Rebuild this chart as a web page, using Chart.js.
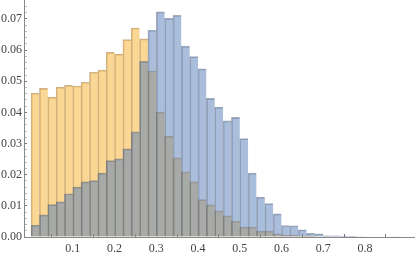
<!DOCTYPE html>
<html>
<head>
<meta charset="utf-8">
<script src="https://cdn.jsdelivr.net/npm/chart.js@4"></script>
<style>
  html, body { margin: 0; padding: 0; background: #fff; }
  #wrap { width: 415px; height: 254px; }
</style>
</head>
<body>
<div id="wrap"><canvas id="chart" width="415" height="254"></canvas></div>
<script>
// bin centres (bin width 0.02)
const binCenters = [0.01, 0.03, 0.05, 0.07, 0.09, 0.11, 0.13, 0.15, 0.17, 0.19,
    0.21, 0.23, 0.25, 0.27, 0.29, 0.31, 0.33, 0.35, 0.37, 0.39,
    0.41, 0.43, 0.45, 0.47, 0.49, 0.51, 0.53, 0.55, 0.57, 0.59,
    0.61, 0.63, 0.65, 0.67, 0.69, 0.71, 0.73, 0.75, 0.77, 0.79,
    0.81, 0.83, 0.85, 0.87, 0.89];

const orangeHeights = [0.0462, 0.0477, 0.0449, 0.0481, 0.0487, 0.0485, 0.0497, 0.0529, 0.0536, 0.0593,
    0.0587, 0.0634, 0.0671, 0.0636, 0.0533, 0.0401, 0.0323, 0.0254, 0.0209, 0.0177,
    0.0120, 0.0103, 0.0084, 0.0068, 0.0051, 0.0032, 0.0032, 0.0019, 0.0019, 0.0010,
    0.0005, 0.0005, 0.0003, 0.0002, 0.0001, 0.0001, 0, 0, 0, 0,
    0, 0, 0, 0, 0];

const blueHeights = [0.0038, 0.0071, 0.0104, 0.0113, 0.0139, 0.0160, 0.0177, 0.0181, 0.0205, 0.0245,
    0.0251, 0.0283, 0.0338, 0.0564, 0.0664, 0.0723, 0.0702, 0.0712, 0.0613, 0.0579,
    0.0540, 0.0445, 0.0417, 0.0373, 0.0384, 0.0316, 0.0205, 0.0128, 0.0107, 0.0074,
    0.0037, 0.0036, 0.0023, 0.0012, 0.0010, 0.0004, 0.0004, 0.0002, 0.0002, 0.0001,
    0, 0, 0, 0.0001, 0];

const xTicks = [0.1, 0.2, 0.3, 0.4, 0.5, 0.6, 0.7, 0.8];
const yMajorTicks = [0, 0.01, 0.02, 0.03, 0.04, 0.05, 0.06, 0.07];
const yMinorTicks = [0.002, 0.004, 0.006, 0.008, 0.012, 0.014, 0.016, 0.018,
    0.022, 0.024, 0.026, 0.028, 0.032, 0.034, 0.036, 0.038,
    0.042, 0.044, 0.046, 0.048, 0.052, 0.054, 0.056, 0.058,
    0.062, 0.064, 0.066, 0.068, 0.072, 0.074];

const ctx = document.getElementById('chart').getContext('2d');

const isMajor = v => yMajorTicks.some(t => Math.abs(t - v) < 1e-9);
const tickFont = { family: '"Liberation Serif", "DejaVu Serif", serif', size: 12 };

// no extra room around the plot, like the original
const noPadding = scale => {
    scale.paddingTop = 0;
    scale.paddingBottom = 0;
    scale.paddingLeft = 0;
    scale.paddingRight = 0;
};

new Chart(ctx, {
    type: 'bar',
    data: {
        datasets: [{
            label: 'blue',
            data: binCenters.map((x, i) => ({ x: x, y: blueHeights[i] })),
            backgroundColor: 'rgba(86, 125, 185, 0.5)',
            borderColor: 'rgba(60, 72, 95, 0.45)',
            borderWidth: { top: 1, left: 1, right: 0, bottom: 0 },
            order: 0
        }, {
            label: 'orange',
            data: binCenters.map((x, i) => ({ x: x, y: orangeHeights[i] })),
            backgroundColor: 'rgba(248, 176, 44, 0.5)',
            borderColor: 'rgba(150, 105, 40, 0.5)',
            borderWidth: { top: 1, left: 1, right: 0, bottom: 0 },
            order: 1
        }]
    },
    options: {
        responsive: false,
        animation: false,
        layout: { padding: 0 },
        grouped: false,
        barPercentage: 1,
        categoryPercentage: 1,
        plugins: {
            legend: { display: false },
            tooltip: { enabled: false }
        },
        scales: {
            x: {
                type: 'linear',
                offset: false,
                min: -0.017,
                max: 0.92,
                afterBuildTicks: scale => { scale.ticks = xTicks.map(v => ({ value: v })); },
                afterFit: scale => { scale.height = 17; noPadding(scale); },
                grid: {
                    drawOnChartArea: false,
                    drawTicks: true,
                    tickLength: -3,
                    tickColor: '#777'
                },
                border: { display: true, color: '#888', width: 1 },
                ticks: {
                    autoSkip: false,
                    maxRotation: 0,
                    padding: 8,
                    color: '#444',
                    font: tickFont,
                    callback: v => v.toFixed(1)
                }
            },
            y: {
                type: 'linear',
                min: 0,
                max: 0.0761,
                afterBuildTicks: scale => {
                    scale.ticks = yMajorTicks.concat(yMinorTicks).sort((a, b) => a - b).map(v => ({ value: v }));
                },
                afterFit: scale => { scale.width = 24; noPadding(scale); },
                grid: {
                    drawOnChartArea: false,
                    drawTicks: true,
                    tickLength: -3,
                    tickColor: c => isMajor(c.tick.value) ? '#777' : '#bbb'
                },
                border: { display: true, color: '#888', width: 1 },
                ticks: {
                    autoSkip: false,
                    padding: 5,
                    color: '#444',
                    font: tickFont,
                    callback: v => isMajor(v) ? v.toFixed(2) : ''
                }
            }
        }
    }
});
</script>
</body>
</html>
